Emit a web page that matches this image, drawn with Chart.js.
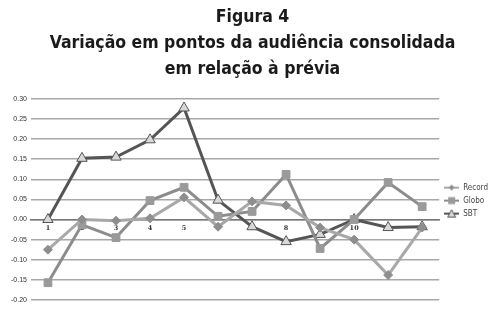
<!DOCTYPE html>
<html>
<head>
<meta charset="UTF-8">
<title>Figura 4</title>
<script src="https://cdn.jsdelivr.net/npm/chart.js"></script>
<style>
  html, body { margin: 0; padding: 0; background: #fff; }
</style>
</head>
<body>
<canvas id="grafico" width="493" height="309"></canvas>
<script>
  // dados
  const rodadas = ['1', '2', '3', '4', '5', '6', '7', '8', '9', '10', '11', '12'];
  const record = [-0.075, 0.000, -0.003, 0.003, 0.055, -0.018, 0.045, 0.035, -0.020, -0.050, -0.138, -0.020];
  const globo  = [-0.157, -0.013, -0.045, 0.047, 0.080, 0.008, 0.020, 0.112, -0.072, 0.000, 0.092, 0.032];
  const sbt    = [0.000, 0.152, 0.155, 0.198, 0.277, 0.048, -0.018, -0.055, -0.037, 0.000, -0.020, -0.018];
  const titulo = ['Figura 4', 'Variação em pontos da audiência consolidada', 'em relação à prévia'];

  // pequeno desenho de linha + marcador para a legenda
  function iconeLegenda(cor, corMarca, borda, forma) {
    const c = document.createElement('canvas');
    c.width = 15; c.height = 10;
    const g = c.getContext('2d');
    g.strokeStyle = cor; g.lineWidth = 2;
    g.beginPath(); g.moveTo(0, 5); g.lineTo(15, 5); g.stroke();
    g.fillStyle = corMarca; g.strokeStyle = borda; g.lineWidth = 1;
    g.beginPath();
    if (forma === 'losango') {
      g.moveTo(7.5, 2); g.lineTo(10.5, 5); g.lineTo(7.5, 8); g.lineTo(4.5, 5); g.closePath();
      g.fill();
    } else if (forma === 'quadrado') {
      g.rect(4, 1.5, 7, 7); g.fill();
    } else {
      g.moveTo(7.5, 1); g.lineTo(11.5, 8.5); g.lineTo(3.5, 8.5); g.closePath();
      g.fill(); g.stroke();
    }
    return c;
  }
  const icones = [
    iconeLegenda('#a8a8a8', '#8e8e8e', '#8e8e8e', 'losango'),
    iconeLegenda('#8c8c8c', '#9a9a9a', '#9a9a9a', 'quadrado'),
    iconeLegenda('#555555', '#d8d8d8', '#555555', 'triangulo')
  ];

  const ctx = document.getElementById('grafico').getContext('2d');
  new Chart(ctx, {
    type: 'line',
    data: {
      labels: rodadas,
      datasets: [
        {
          label: 'Record',
          data: record,
          borderColor: '#a8a8a8',
          borderWidth: 3,
          pointStyle: 'rectRot',
          pointRadius: 4.5,
          pointBackgroundColor: '#8e8e8e',
          pointBorderColor: '#8e8e8e',
          pointBorderWidth: 1,
          tension: 0
        },
        {
          label: 'Globo',
          data: globo,
          borderColor: '#8c8c8c',
          borderWidth: 3,
          pointStyle: 'rect',
          pointRadius: 5.5,
          pointBackgroundColor: '#9a9a9a',
          pointBorderColor: '#9a9a9a',
          pointBorderWidth: 1,
          tension: 0
        },
        {
          label: 'SBT',
          data: sbt,
          borderColor: '#555555',
          borderWidth: 3,
          pointStyle: 'triangle',
          pointRadius: 6,
          pointBackgroundColor: '#d8d8d8',
          pointBorderColor: '#555555',
          pointBorderWidth: 1,
          tension: 0
        }
      ]
    },
    options: {
      responsive: false,
      animation: false,
      layout: { padding: { left: 7, right: -5, top: 4, bottom: 9 } },
      plugins: {
        title: {
          display: true,
          text: titulo,
          color: '#1a1a1a',
          font: { family: "'DejaVu Sans Condensed', sans-serif", size: 17.5, weight: 'bold', lineHeight: 1.5 },
          padding: { top: 0, bottom: 16 }
        },
        legend: {
          position: 'right',
          title: {
            display: true,
            text: ' ',
            font: { size: 1 },
            padding: { top: 64, bottom: 32 }
          },
          labels: {
            usePointStyle: true,
            pointStyleWidth: 15,
            color: '#444',
            font: { family: "'DejaVu Sans Condensed', sans-serif", size: 8 },
            padding: 5,
            generateLabels: function (chart) {
              return chart.data.datasets.map(function (ds, i) {
                return {
                  text: ds.label,
                  pointStyle: icones[i],
                  fillStyle: ds.borderColor,
                  strokeStyle: ds.borderColor,
                  lineWidth: 0,
                  fontColor: '#444',
                  datasetIndex: i
                };
              });
            }
          }
        },
        tooltip: { enabled: false }
      },
      scales: {
        x: {
          position: { y: 0 },
          offset: true,
          grid: { display: false, drawOnChartArea: false, tickLength: 3 },
          border: { color: '#777', width: 1.5 },
          ticks: {
            color: '#333',
            font: { family: "'DejaVu Serif', serif", size: 6.5, weight: 'bold' },
            padding: 2,
            maxRotation: 0
          }
        },
        y: {
          min: -0.2,
          max: 0.3,
          border: { display: false },
          grid: { color: '#a8a8a8', lineWidth: 1.5, drawTicks: false },
          ticks: {
            stepSize: 0.05,
            color: '#333',
            padding: 4,
            font: { family: "'Liberation Sans', sans-serif", size: 7 },
            callback: function (v) { return v.toFixed(2); }
          }
        }
      }
    }
  });
</script>
</body>
</html>
